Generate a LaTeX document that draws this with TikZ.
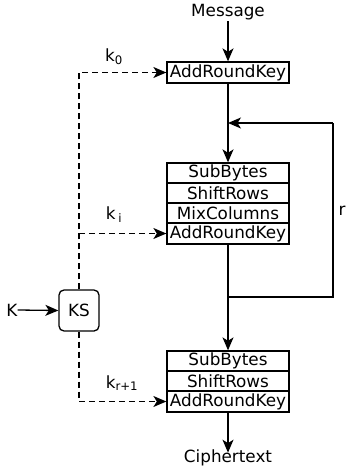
\documentclass[tikz,border=0pt]{standalone}
\usepackage{fontspec}
\setmainfont{DejaVu Sans}
\usetikzlibrary{arrows.meta}
\begin{document}
\begin{tikzpicture}[x=1pt,y=-1pt,
  every node/.style={font=\fontsize{16.8}{19}\selectfont},
  rowbox/.style={draw,line width=1.3pt,minimum width=122pt,minimum height=20pt,inner sep=0pt,anchor=center},
  arr/.style={line width=1.3pt,-{Stealth[length=13pt,width=11pt,inset=3.5pt]}},
  plain/.style={line width=1.3pt},
  dsh/.style={line width=1.3pt,dash pattern=on 6pt off 4pt,-{Stealth[length=13pt,width=11pt,inset=3.5pt]}},
  lbl/.style={inner sep=0pt}]
\useasboundingbox (0,0) rectangle (345,468);
\node[lbl] (msg) at (228,12) {Message};
\node[rowbox,minimum height=21pt] (ark0) at (228,72.5) {AddRoundKey};
\node[rowbox] (sb1) at (228,173) {SubBytes};
\node[rowbox] (sr1) at (228,193) {ShiftRows};
\node[rowbox] (mc1) at (228,213) {MixColumns};
\node[rowbox,minimum height=21pt] (ark1) at (228,233.5) {AddRoundKey};
\node[rowbox] (sb2) at (228,361) {SubBytes};
\node[rowbox] (sr2) at (228,381) {ShiftRows};
\node[rowbox,minimum height=21pt] (ark2) at (228,401.5) {AddRoundKey};
\node[lbl] (ct) at (228,458) {Ciphertext};
\node[draw,line width=1.3pt,rounded corners=5pt,minimum width=40pt,minimum height=41pt,inner sep=0pt] (ks) at (79,310.5) {KS};
\node[lbl] (k) at (12,310) {K};
\node[lbl] (r) at (342,211) {r};
\node[lbl] (k0) at (114,57) {k\textsubscript{0}};
\node[lbl] (ki) at (114,215) {k\,\textsubscript{i}};
\node[lbl] (kr) at (122,383) {k\textsubscript{r+1}};
\coordinate (fb) at (228,123);
\coordinate (jn) at (228,297);
\coordinate (c1) at (333,297);
\coordinate (c2) at (333,123);
\draw[arr] ([yshift=-1pt]msg.south) -- (ark0.north);
\draw[arr] (ark0.south) -- (sb1.north);
\draw[plain] (ark1.south) -- (jn) -- (c1) -- (c2);
\draw[arr] (c2) -- (fb);
\draw[arr] (jn) -- (sb2.north);
\draw[arr] (ark2.south) -- ([yshift=-3pt]ct.north);
\draw[arr] (k.east) -- (ks.west);
\draw[dsh] (ks.north) -- (ks.north |- ark0.west) -- (ark0.west);
\draw[dsh] (ks.north |- ark1.west) -- (ark1.west);
\draw[dsh] (ks.south) -- (ks.south |- ark2.west) -- (ark2.west);
\end{tikzpicture}
\end{document}
